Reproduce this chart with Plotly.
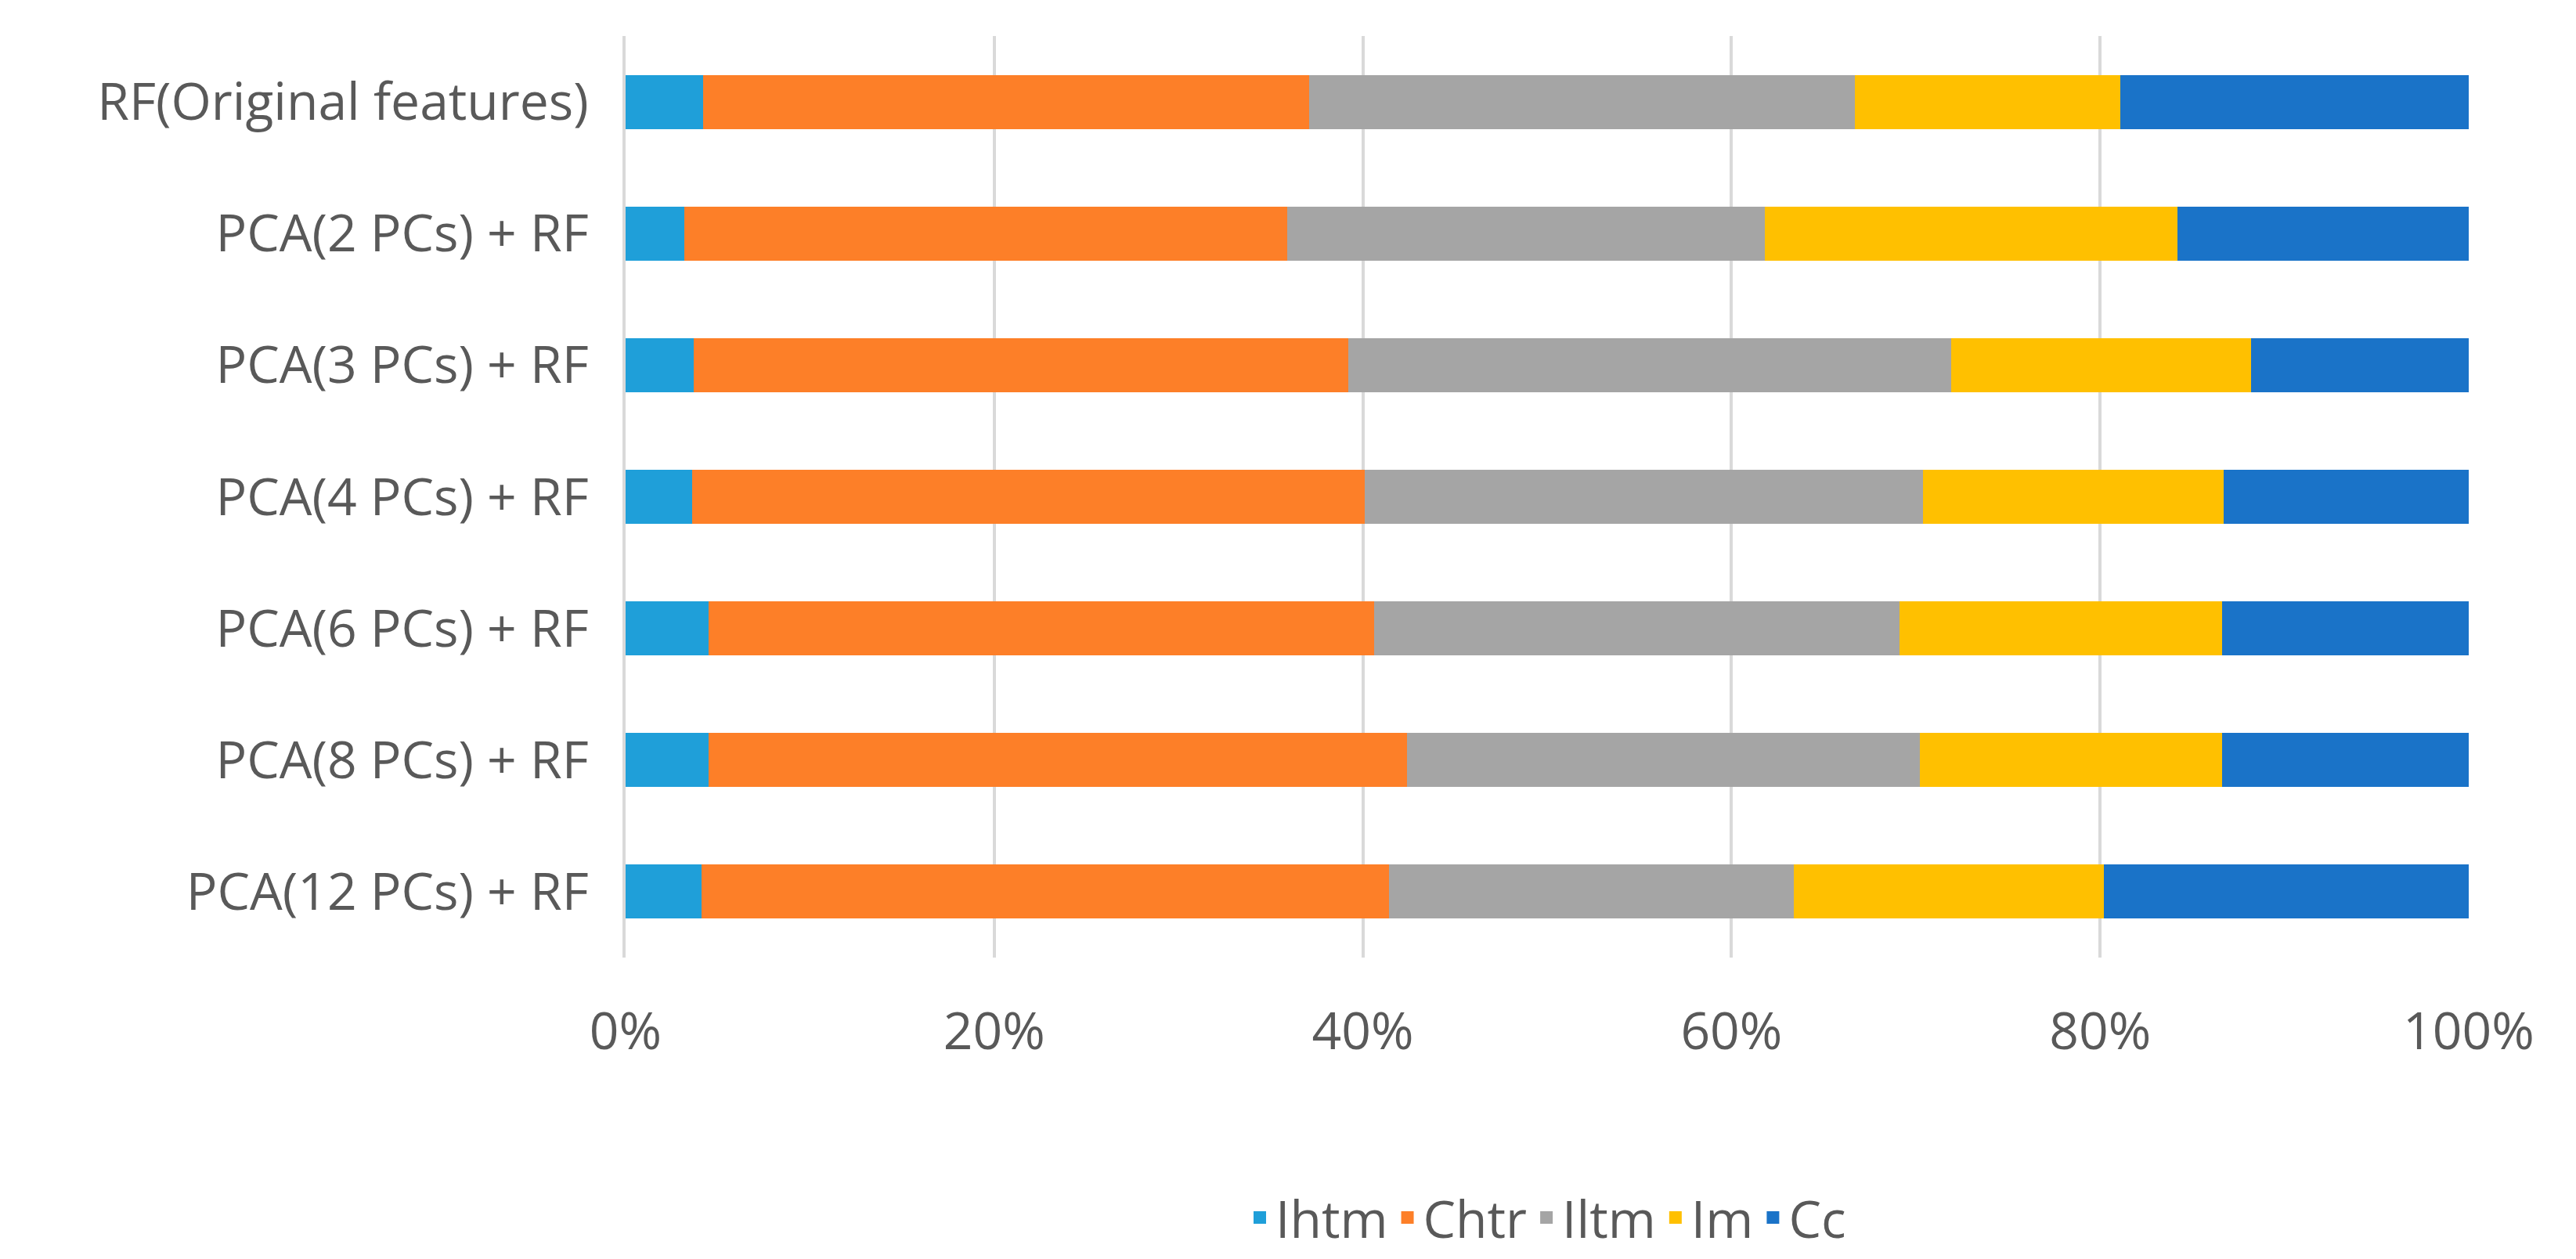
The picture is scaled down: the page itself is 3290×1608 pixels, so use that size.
import plotly.graph_objects as go

categories = ["RF(Original features)", "PCA(2 PCs) + RF", "PCA(3 PCs) + RF", "PCA(4 PCs) + RF",
              "PCA(6 PCs) + RF", "PCA(8 PCs) + RF", "PCA(12 PCs) + RF"]
ihtm = [4.2, 3.2, 3.7, 3.6, 4.5, 4.5, 4.1]
chtr = [32.9, 32.7, 35.5, 36.5, 36.1, 37.9, 37.3]
iltm = [29.6, 25.9, 32.7, 30.3, 28.5, 27.8, 22.0]
im = [14.4, 22.4, 16.3, 16.3, 17.5, 16.4, 16.8]
cc = [18.9, 15.8, 11.8, 13.3, 13.4, 13.4, 19.8]

series = [("Ihtm", ihtm, "#1f9fd9"), ("Chtr", chtr, "#fd7f28"), ("Iltm", iltm, "#a5a5a5"),
          ("Im", im, "#ffc000"), ("Cc", cc, "#1a73c8")]

fig = go.Figure()
for name, vals, col in series:
    fig.add_trace(go.Bar(y=categories, x=vals, name=name, orientation="h", showlegend=False,
                         marker=dict(color=col, line=dict(width=0))))
for name, vals, col in series:
    fig.add_trace(go.Scatter(x=[None], y=[None], mode="markers", name=name,
                             marker=dict(symbol="square", size=38, color=col)))

fig.update_layout(
    barmode="stack", barnorm="percent", bargap=0.59,
    width=3290, height=1608, paper_bgcolor="white", plot_bgcolor="white",
    margin=dict(l=791, r=145, t=38, b=381),
    font=dict(family="Open Sans", size=66, color="#595959"),
    xaxis=dict(range=[0, 100], dtick=20, ticksuffix="%", showgrid=True,
               gridcolor="#d9d9d9", gridwidth=4, zeroline=False, ticklen=0,
               ticklabelstandoff=50),
    yaxis=dict(autorange="reversed", showline=True, linecolor="#d9d9d9", linewidth=4,
               ticks="", ticklabelstandoff=30),
    legend=dict(orientation="h", x=0.5, xanchor="center", y=-0.24, yanchor="top",
                itemwidth=30, traceorder="normal"),
)
fig.write_html("out.html")
